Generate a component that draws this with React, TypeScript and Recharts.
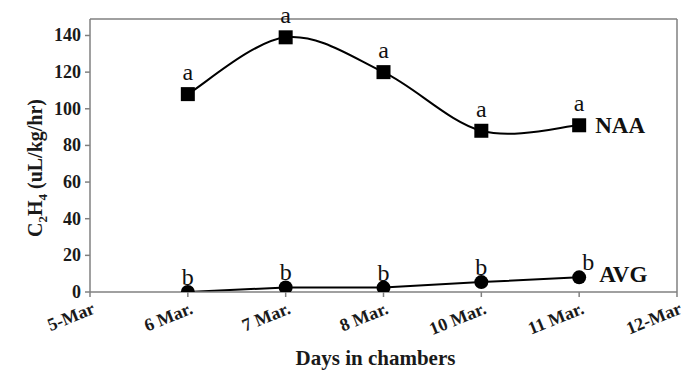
import React from 'react'
import {
    LineChart,
    Line,
    XAxis,
    YAxis,
    LabelList,
    ReferenceLine,
} from 'recharts'

const days = ['5-Mar', '6 Mar.', '7 Mar.', '8 Mar.', '10 Mar.', '11 Mar.', '12-Mar']
const naaValues = [null, 108, 139, 120, 88, 91, null]
const avgValues = [null, 0, 2.5, 2.4, 5.4, 8, null]
const naaLetters = ['', 'a', 'a', 'a', 'a', 'a', '']
const avgLetters = ['', 'b', 'b', 'b', 'b', 'b', '']
const seriesNames = ['NAA', 'AVG']
const yTicks = [0, 20, 40, 60, 80, 100, 120, 140]
const yMax = 149

const data = days.map((day, i) => ({
    day,
    naa: naaValues[i],
    avg: avgValues[i],
    naaSig: naaLetters[i],
    avgSig: avgLetters[i],
}))

const SERIF = '"Liberation Serif", "Times New Roman", serif'
const AXIS = '#808080'
const INK = '#1a1a1a'

// Excel-like smoothed line (Catmull-Rom as cubic beziers)
function smoothCurve(context: any) {
    let pts: number[][] = []
    return {
        areaStart() {},
        areaEnd() {},
        lineStart() {
            pts = []
        },
        lineEnd() {
            const n = pts.length
            if (n === 0) return
            context.moveTo(pts[0][0], pts[0][1])
            for (let i = 0; i < n - 1; i++) {
                const p0 = pts[i - 1] || pts[i]
                const p1 = pts[i]
                const p2 = pts[i + 1]
                const p3 = pts[i + 2] || p2
                context.bezierCurveTo(
                    p1[0] + (p2[0] - p0[0]) / 6,
                    p1[1] + (p2[1] - p0[1]) / 6,
                    p2[0] - (p3[0] - p1[0]) / 6,
                    p2[1] - (p3[1] - p1[1]) / 6,
                    p2[0],
                    p2[1]
                )
            }
        },
        point(x: number, y: number) {
            pts.push([+x, +y])
        },
    }
}

const lastIndex = (arr: (number | null)[]) => {
    for (let i = arr.length - 1; i >= 0; i--) if (arr[i] != null) return i
    return -1
}

function XTick({ x, y, payload }: any) {
    return (
        <g transform={`translate(${x + 6},${y + 14})`}>
            <text
                textAnchor="end"
                transform="rotate(-22)"
                style={{ fontFamily: SERIF, fontWeight: 'bold', fontSize: 18 }}
                fill={INK}
            >
                {payload.value}
            </text>
        </g>
    )
}

function YTick({ x, y, payload }: any) {
    return (
        <text
            x={x}
            y={y + 6}
            textAnchor="end"
            style={{ fontFamily: SERIF, fontWeight: 'bold', fontSize: 18 }}
            fill={INK}
        >
            {payload.value}
        </text>
    )
}

const SquareDot = ({ cx, cy }: any) =>
    cx == null || cy == null ? null : <rect x={cx - 7} y={cy - 7} width={14} height={14} fill="#000" />

const CircleDot = ({ cx, cy }: any) =>
    cx == null || cy == null ? null : <circle cx={cx} cy={cy} r={7} fill="#000" />

const letterLabel = (lift: number, last: number) => (props: any) => {
    const { x, y, value, index } = props
    if (!value) return null
    const dx = index === last && lift < 10 ? 9 : 0
    return (
        <text x={x + dx} y={y - lift} textAnchor="middle" style={{ fontFamily: SERIF, fontSize: 24 }} fill="#111">
            {value}
        </text>
    )
}

const nameLabel = (name: string, last: number, dx: number, dy: number) => (props: any) => {
    const { x, y, index } = props
    if (index !== last) return null
    return (
        <text x={x + dx} y={y + dy} style={{ fontFamily: SERIF, fontWeight: 'bold', fontSize: 23 }} fill="#111">
            {name}
        </text>
    )
}

const XTitle = ({ viewBox }: any) => (
    <text
        x={viewBox.x + viewBox.width / 2 - 8}
        y={365}
        textAnchor="middle"
        style={{ fontFamily: SERIF, fontWeight: 'bold', fontSize: 21 }}
        fill={INK}
    >
        Days in chambers
    </text>
)

const YTitle = () => (
    <text
        transform="translate(42,168) rotate(-90)"
        textAnchor="middle"
        style={{ fontFamily: SERIF, fontWeight: 'bold', fontSize: 20 }}
        fill={INK}
    >
        C<tspan dy={5} fontSize={13}>2</tspan>
        <tspan dy={-5}>H</tspan>
        <tspan dy={5} fontSize={13}>4</tspan>
        <tspan dy={-5}> (uL/kg/hr)</tspan>
    </text>
)

export default function App() {
    const naaLast = lastIndex(naaValues)
    const avgLast = lastIndex(avgValues)
    return (
        <div style={{ position: 'absolute', left: 0, top: 0, width: 686, height: 374, background: '#fff' }}>
            <LineChart width={686} height={374} data={data} margin={{ top: 19, right: 9, left: 30, bottom: 10 }}>
                <XAxis
                    dataKey="day"
                    scale="point"
                    padding={{ left: 0, right: 0 }}
                    interval={0}
                    height={72}
                    tick={<XTick />}
                    tickSize={5}
                    axisLine={{ stroke: AXIS, strokeWidth: 1.5 }}
                    tickLine={{ stroke: AXIS, strokeWidth: 1.5 }}
                    label={{ content: XTitle }}
                />
                <YAxis
                    domain={[0, yMax]}
                    ticks={yTicks}
                    allowDataOverflow
                    width={60}
                    tickSize={5}
                    tickMargin={4}
                    axisLine={{ stroke: AXIS, strokeWidth: 1.5 }}
                    tickLine={{ stroke: AXIS, strokeWidth: 1.5 }}
                    tick={<YTick />}
                    label={{ content: YTitle }}
                />
                <ReferenceLine y={yMax} stroke={AXIS} strokeWidth={1.5} ifOverflow="extendDomain" />
                <ReferenceLine x={days[days.length - 1]} stroke={AXIS} strokeWidth={1.5} />
                <Line
                    dataKey="naa"
                    type={smoothCurve as any}
                    stroke="#000"
                    strokeWidth={2}
                    dot={<SquareDot />}
                    activeDot={false}
                    isAnimationActive={false}
                >
                    <LabelList dataKey="naaSig" content={letterLabel(14, naaLast)} />
                    <LabelList dataKey="naa" content={nameLabel(seriesNames[0], naaLast, 16, 8)} />
                </Line>
                <Line
                    dataKey="avg"
                    type="linear"
                    stroke="#000"
                    strokeWidth={2}
                    dot={<CircleDot />}
                    activeDot={false}
                    isAnimationActive={false}
                >
                    <LabelList dataKey="avgSig" content={letterLabel(7, avgLast)} />
                    <LabelList dataKey="avg" content={nameLabel(seriesNames[1], avgLast, 20, 5)} />
                </Line>
            </LineChart>
        </div>
    )
}
